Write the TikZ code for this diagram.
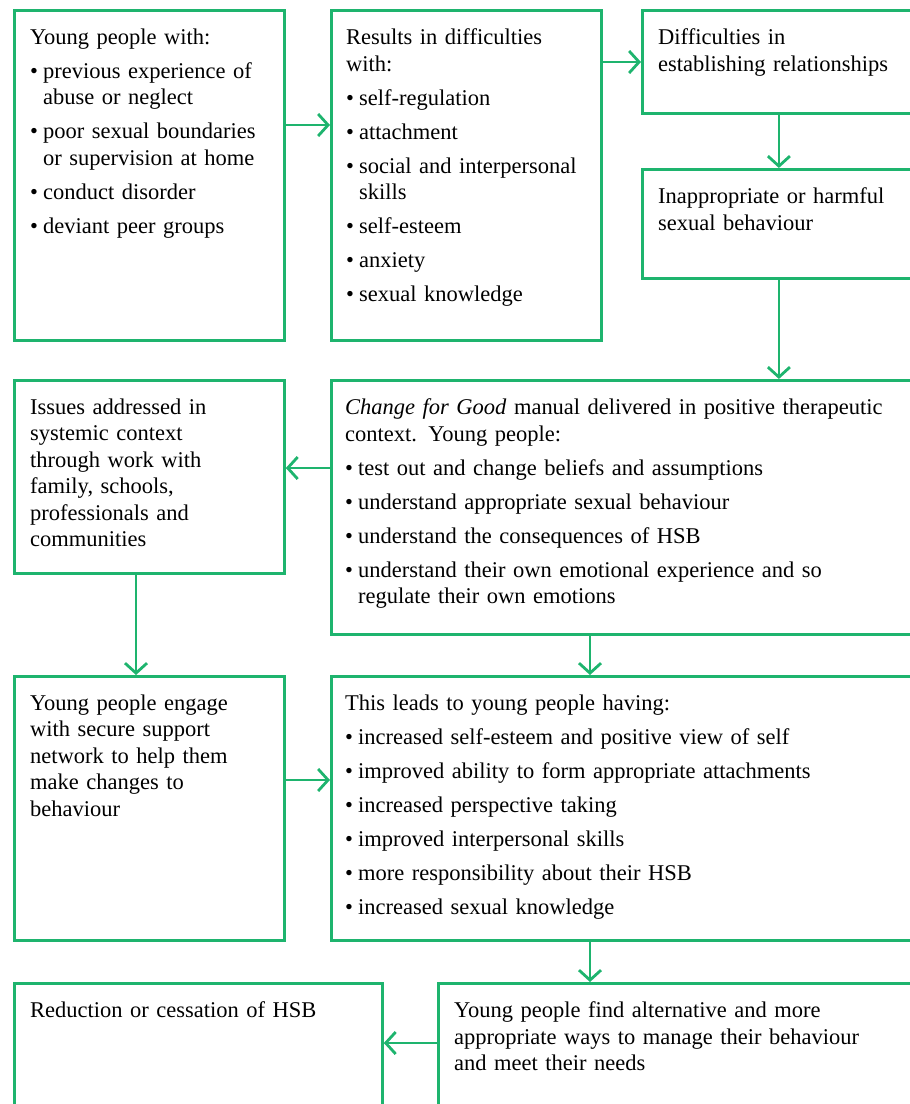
\documentclass[tikz,border=0pt]{standalone}
\usepackage{fontspec}
\setmainfont{Liberation Serif}
\usetikzlibrary{arrows.meta}
\newcommand{\itm}{\par\vspace{7.5pt}\hangindent=13pt\hangafter=1\noindent\makebox[13pt][l]{\textbullet}}
\begin{document}
\begin{tikzpicture}[x=1pt,y=1pt,
  font=\fontsize{22.5}{26.5}\selectfont,
  box/.style={draw=hsbgreen,line width=2.8pt,anchor=north west,inner sep=0pt},
  txt/.style={anchor=north west,inner sep=0pt,text width=#1,align=left},
  txt/.default=255pt,
  arr/.style={draw=hsbgreen,line width=2.8pt,-{Straight Barb[length=10pt,width=22pt]}}]
  \definecolor{hsbgreen}{HTML}{1EB46E}
  \path[use as bounding box] (0,0) rectangle (910,-1104);
  \clip (0,0) rectangle (910,-1104);
  \node[box,minimum width=270pt,minimum height=330pt] (risk) at (13,-9) {};
  \node[box,minimum width=270pt,minimum height=330pt] (diffs) at (330,-9) {};
  \node[box,minimum width=273pt,minimum height=103pt] (relate) at (641,-9) {};
  \node[box,minimum width=273pt,minimum height=109pt] (harm) at (641,-168) {};
  \node[box,minimum width=584pt,minimum height=254pt] (manual) at (330,-379) {};
  \node[box,minimum width=270pt,minimum height=193pt] (systemic) at (13,-379) {};
  \node[box,minimum width=270pt,minimum height=264pt] (support) at (13,-675) {};
  \node[box,minimum width=584pt,minimum height=264pt] (outcomes) at (330,-675) {};
  \node[box,minimum width=477pt,minimum height=140pt] (alternative) at (437,-982) {};
  \node[box,minimum width=368pt,minimum height=140pt] (reduction) at (13,-982) {};
  \node[txt] (riskTxt) at ([shift={(17pt,-19.5pt)}]risk.north west) {Young people with:
    \itm previous experience of\newline abuse or neglect
    \itm poor sexual boundaries\newline or supervision at home
    \itm conduct disorder
    \itm deviant peer groups\par};
  \node[txt] (diffsTxt) at ([shift={(16pt,-19.5pt)}]diffs.north west) {Results in difficulties\\with:
    \itm self-regulation
    \itm attachment
    \itm social and interpersonal\newline skills
    \itm self-esteem
    \itm anxiety
    \itm sexual knowledge\par};
  \node[txt] (relateTxt) at ([shift={(17pt,-19.5pt)}]relate.north west) {Difficulties in\\establishing relationships};
  \node[txt] (harmTxt) at ([shift={(17pt,-19.5pt)}]harm.north west) {Inappropriate or harmful\\sexual behaviour};
  \node[txt=570pt] (manualTxt) at ([shift={(15pt,-19.5pt)}]manual.north west) {\textit{Change for Good} manual delivered in positive therapeutic\\context. Young people:
    \itm test out and change beliefs and assumptions
    \itm understand appropriate sexual behaviour
    \itm understand the consequences of HSB
    \itm understand their own emotional experience and so\newline regulate their own emotions\par};
  \node[txt] (systemicTxt) at ([shift={(17pt,-19.5pt)}]systemic.north west) {Issues addressed in\\systemic context\\through work with\\family, schools,\\professionals and\\communities};
  \node[txt] (supportTxt) at ([shift={(17pt,-19.5pt)}]support.north west) {Young people engage\\with secure support\\network to help them\\make changes to\\behaviour};
  \node[txt=570pt] (outcomesTxt) at ([shift={(15pt,-19.5pt)}]outcomes.north west) {This leads to young people having:
    \itm increased self-esteem and positive view of self
    \itm improved ability to form appropriate attachments
    \itm increased perspective taking
    \itm improved interpersonal skills
    \itm more responsibility about their HSB
    \itm increased sexual knowledge\par};
  \node[txt=460pt] (alternativeTxt) at ([shift={(17pt,-19.5pt)}]alternative.north west) {Young people find alternative and more\\appropriate ways to manage their behaviour\\and meet their needs};
  \node[txt=350pt] (reductionTxt) at ([shift={(17pt,-19.5pt)}]reduction.north west) {Reduction or cessation of HSB};
  \draw[arr] ([yshift=-116pt]risk.north east) -- ([yshift=-116pt]diffs.north west);
  \draw[arr] ([yshift=-53pt]diffs.north east) -- ([yshift=-53pt]relate.north west);
  \draw[arr] (relate.south) -- (harm.north);
  \draw[arr] (harm.south) -- (harm.south |- manual.north);
  \draw[arr] ([yshift=-89pt]manual.north west) -- ([yshift=-89pt]systemic.north east);
  \draw[arr] ([xshift=123pt]systemic.south west) -- ([xshift=123pt]support.north west);
  \draw[arr] ([xshift=260pt]manual.south west) -- ([xshift=260pt]outcomes.north west);
  \draw[arr] ([yshift=-105pt]support.north east) -- ([yshift=-105pt]outcomes.north west);
  \draw[arr] ([xshift=260pt]outcomes.south west) -- ([xshift=260pt]outcomes.south west |- alternative.north);
  \draw[arr] ([yshift=-61pt]alternative.north west) -- ([yshift=-61pt]reduction.north east);
\end{tikzpicture}
\end{document}
